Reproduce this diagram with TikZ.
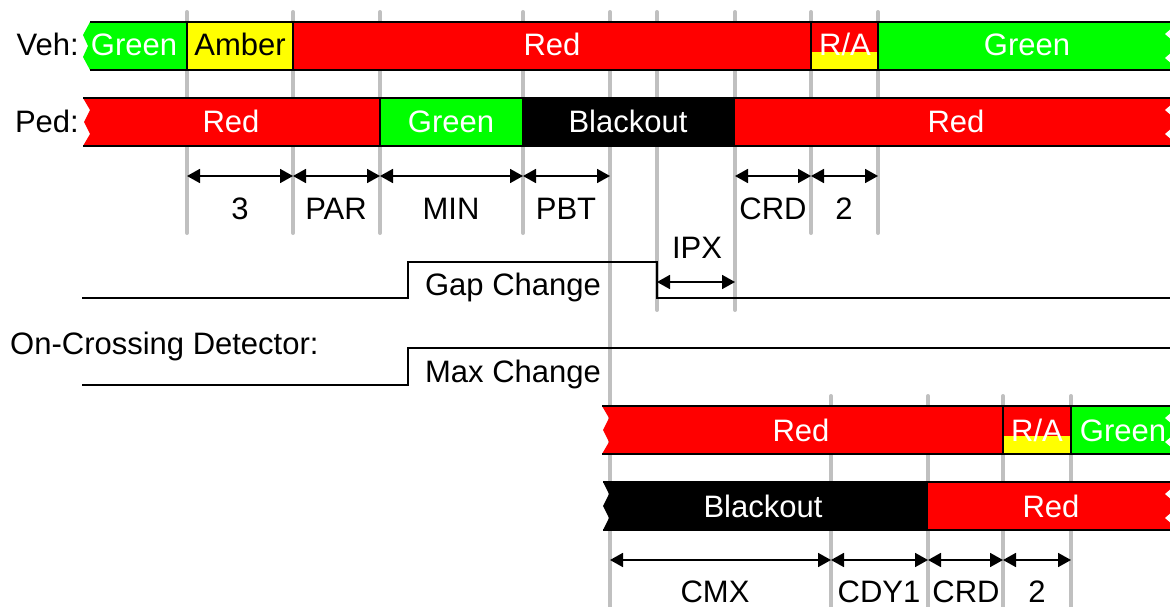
\documentclass[tikz,border=0pt]{standalone}
\usepackage{fontspec}
\setmainfont{Liberation Sans}
\usetikzlibrary{arrows.meta}
\definecolor{sred}{RGB}{255,0,0}
\definecolor{sgreen}{RGB}{0,255,0}
\definecolor{syellow}{RGB}{255,255,0}
\definecolor{gridgray}{RGB}{192,192,192}
\begin{document}
\begin{tikzpicture}[x=1pt,y=-1pt,
  gridline/.style={gridgray,line width=4pt,line cap=round},
  barline/.style={black,line width=2.5pt},
  sigline/.style={black,line width=2.5pt},
  dimline/.style={black,line width=1.8pt,{Triangle[length=13pt,width=14pt]}-{Triangle[length=13pt,width=14pt]}},
  lbl/.style={font=\fontsize{31}{36}\selectfont,inner sep=0pt,anchor=base},
  wlbl/.style={lbl,text=white},
  notch/.style={fill=white,draw=none},
]
\useasboundingbox (0,0) rectangle (1170,607);

% ---------- grid lines ----------
\foreach \x in {187,293,380,523,811,878} \draw[gridline] (\x,12) -- (\x,233);
\foreach \x in {657,735} \draw[gridline] (\x,12) -- (\x,310);
\draw[gridline] (610,12) -- (610,612);
\foreach \x in {831,928,1003,1071} \draw[gridline] (\x,396) -- (\x,612);

% ---------- Veh bar (top) ----------
\fill[sgreen] (90,22) -- (187,22) -- (187,70) -- (90,70) -- (83,57) -- (88,46) -- (83,35) -- cycle;
\fill[syellow] (187,22) rectangle (293,70);
\fill[sred] (293,22) rectangle (811,70);
\fill[sred] (811,22) rectangle (878,52);
\fill[syellow] (811,52) rectangle (878,70);
\fill[sgreen] (878,22) rectangle (1170,70);
\draw[barline] (90,22) -- (1170,22);
\draw[barline] (90,70) -- (1170,70);
\foreach \x in {187,293,811,878} \draw[barline] (\x,22) -- (\x,70);

% ---------- Ped bar (top) ----------
\fill[sred] (83,98) -- (380,98) -- (380,146) -- (83,146) -- (90,134) -- (84,122) -- (90,110) -- cycle;
\fill[sgreen] (380,98) rectangle (523,146);
\fill[black] (523,98) rectangle (735,146);
\fill[sred] (735,98) rectangle (1170,146);
\draw[barline] (83,98) -- (1170,98);
\draw[barline] (83,146) -- (1170,146);
\foreach \x in {380,523} \draw[barline] (\x,98) -- (\x,146);

% ---------- Veh bar (bottom) ----------
\fill[sred] (602,406) -- (1003,406) -- (1003,454) -- (602,454) -- (609,442) -- (603,430) -- (609,418) -- cycle;
\fill[sred] (1003,406) rectangle (1071,436);
\fill[syellow] (1003,436) rectangle (1071,454);
\fill[sgreen] (1071,406) rectangle (1170,454);
\draw[barline] (602,406) -- (1170,406);
\draw[barline] (602,454) -- (1170,454);
\foreach \x in {1003,1071} \draw[barline] (\x,406) -- (\x,454);

% ---------- Ped bar (bottom) ----------
\fill[black] (603,482) -- (928,482) -- (928,530) -- (603,530) -- (609,518) -- (603,506) -- (609,494) -- cycle;
\fill[sred] (928,482) rectangle (1170,530);
\draw[barline] (603,482) -- (1170,482);
\draw[barline] (603,530) -- (1170,530);

% ---------- bar texts ----------
\node[lbl,anchor=base east] (vehlbl) at (79,56) {Veh:};
\node[wlbl] (v1) at (134,56) {Green};
\node[lbl] (v2) at (240,56) {Amber};
\node[wlbl] (v3) at (552,56) {Red};
\node[wlbl] (v4) at (845,56) {R/A};
\node[wlbl] (v5) at (1027,56) {Green};

\node[lbl,anchor=base east] (pedlbl) at (79,132) {Ped:};
\node[wlbl] (p1) at (231,132) {Red};
\node[wlbl] (p2) at (451,132) {Green};
\node[wlbl] (p3) at (628,132) {Blackout};
\node[wlbl] (p4) at (956,132) {Red};

\node[wlbl] (bv1) at (801,441) {Red};
\node[wlbl] (bv2) at (1037,441) {R/A};
\node[wlbl] (bv3) at (1123,441) {Green};

\node[wlbl] (bp1) at (763,517) {Blackout};
\node[wlbl] (bp2) at (1051,517) {Red};

% ---------- right break notches ----------
\foreach \yt in {22,98,406,482} {
  \fill[notch] (1172,\yt+6) -- (1165,\yt+12) -- (1172,\yt+18) -- cycle;
  \fill[notch] (1172,\yt+30) -- (1165,\yt+36) -- (1172,\yt+42) -- cycle;
}

% ---------- dimension arrows (top) ----------
\coordinate (d1) at (187,176);
\coordinate (d2) at (293,176);
\coordinate (d3) at (380,176);
\coordinate (d4) at (523,176);
\coordinate (d5) at (610,176);
\coordinate (d6) at (735,176);
\coordinate (d7) at (811,176);
\coordinate (d8) at (878,176);
\draw[dimline] (d1) -- (d2);
\draw[dimline] (d2) -- (d3);
\draw[dimline] (d3) -- (d4);
\draw[dimline] (d4) -- (d5);
\draw[dimline] (d6) -- (d7);
\draw[dimline] (d7) -- (d8);
\node[lbl] (l3) at (240,219) {3};
\node[lbl] (lpar) at (336,219) {PAR};
\node[lbl] (lmin) at (451,219) {MIN};
\node[lbl] (lpbt) at (566,219) {PBT};
\node[lbl] (lcrd) at (773,219) {CRD};
\node[lbl] (l2) at (844,219) {2};

% ---------- IPX ----------
\coordinate (i1) at (657,282);
\coordinate (i2) at (735,282);
\draw[dimline] (i1) -- (i2);
\node[lbl] (lipx) at (697,258) {IPX};

% ---------- detector signals ----------
\coordinate (g0) at (82,298);
\coordinate (g1) at (408,298);
\coordinate (g2) at (408,262);
\coordinate (g3) at (657,262);
\coordinate (g4) at (657,298);
\coordinate (g5) at (1170,298);
\draw[sigline] (g0) -- (g1) -- (g2) -- (g3) -- (g4) -- (g5);
\node[lbl] (lgap) at (513,295) {Gap Change};

\node[lbl,anchor=base west] (locd) at (10,354) {On-Crossing Detector:};

\coordinate (m0) at (82,385);
\coordinate (m1) at (408,385);
\coordinate (m2) at (408,348);
\coordinate (m3) at (1170,348);
\draw[sigline] (m0) -- (m1) -- (m2) -- (m3);
\node[lbl] (lmax) at (513,382) {Max Change};

% ---------- dimension arrows (bottom) ----------
\coordinate (e1) at (610,560);
\coordinate (e2) at (831,560);
\coordinate (e3) at (928,560);
\coordinate (e4) at (1003,560);
\coordinate (e5) at (1071,560);
\draw[dimline] (e1) -- (e2);
\draw[dimline] (e2) -- (e3);
\draw[dimline] (e3) -- (e4);
\draw[dimline] (e4) -- (e5);
\node[lbl] (lcmx) at (715,602) {CMX};
\node[lbl] (lcdy) at (879,602) {CDY1};
\node[lbl] (lcrd2) at (966,602) {CRD};
\node[lbl] (l22) at (1037,602) {2};
\end{tikzpicture}
\end{document}
